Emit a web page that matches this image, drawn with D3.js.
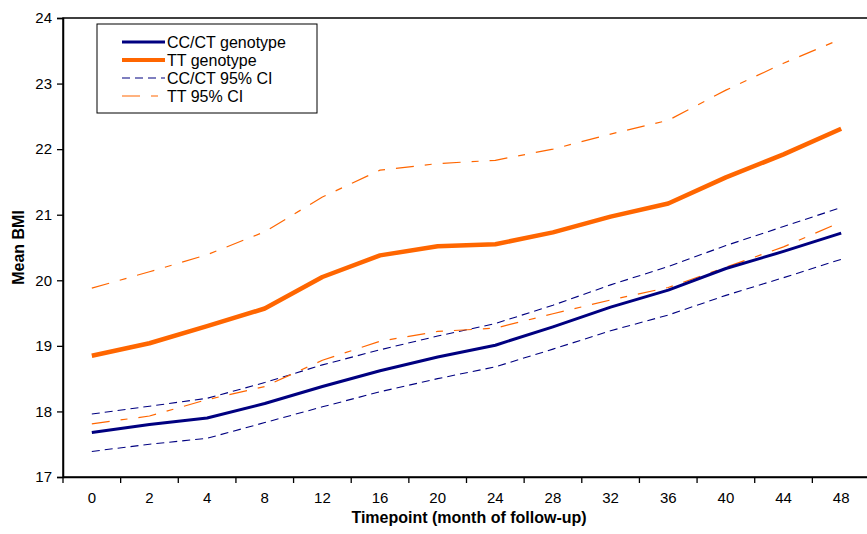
<!DOCTYPE html>
<html>
<head>
<meta charset="utf-8">
<script src="https://cdn.jsdelivr.net/npm/d3@7"></script>
<style>
body { margin: 0; background: #fff; }
svg { display: block; font-family: Arial, "Liberation Sans", sans-serif; }
.axis path, .axis line { stroke: #000; }
.axis text { font-size: 15px; fill: #000; }
.axis-title { font-size: 16px; font-weight: bold; }
.legend-label { font-size: 16px; }
</style>
</head>
<body>
<div id="content"></div>
<script>
const TIMEPOINTS = ['0', '2', '4', '8', '12', '16', '20', '24', '28', '32', '36', '40', '44', '48'];
const CCCT_MEAN  = [17.68, 17.80, 17.90, 18.12, 18.38, 18.62, 18.83, 19.01, 19.29, 19.59, 19.85, 20.18, 20.44, 20.72];
const TT_MEAN    = [18.85, 19.04, 19.30, 19.57, 20.05, 20.38, 20.52, 20.55, 20.73, 20.97, 21.17, 21.57, 21.92, 22.31];
const CCCT_UPPER = [17.96, 18.08, 18.20, 18.44, 18.71, 18.94, 19.15, 19.34, 19.62, 19.93, 20.21, 20.53, 20.82, 21.11];
const CCCT_LOWER = [17.39, 17.50, 17.59, 17.83, 18.07, 18.30, 18.50, 18.68, 18.95, 19.23, 19.47, 19.77, 20.04, 20.32];
const TT_UPPER   = [19.88, 20.13, 20.39, 20.74, 21.27, 21.68, 21.78, 21.83, 22.00, 22.23, 22.44, 22.90, 23.31, 23.68];
const TT_LOWER   = [17.81, 17.93, 18.18, 18.38, 18.78, 19.07, 19.22, 19.27, 19.49, 19.70, 19.89, 20.20, 20.51, 20.89];
const Y_TICKS = [17, 18, 19, 20, 21, 22, 23, 24];

var width = 867;
var height = 534;
var plotLeft = 63, plotRight = 870, plotTop = 18, plotBottom = 477;

var svg = d3.select('#content')
.append('svg')
.attr('width', width)
.attr('height', height);

var xScale = d3.scaleBand()
.domain(TIMEPOINTS)
.range([plotLeft, plotRight]);

var yScale = d3.scaleLinear()
.domain([17, 24])
.range([plotBottom, plotTop]);

// plot frame
svg.append('rect')
.attr('x', plotLeft)
.attr('y', plotTop)
.attr('width', plotRight - plotLeft)
.attr('height', plotBottom - plotTop)
.attr('fill', 'none')
.attr('stroke', '#000')
.attr('stroke-width', 1.5);

// series, CIs first so the means sit on top
var series = [
    {name: 'CC/CT 95% CI', values: CCCT_UPPER, color: '#000080', width: 1.1, dash: '8,5', legend: false},
    {name: 'CC/CT 95% CI', values: CCCT_LOWER, color: '#000080', width: 1.1, dash: '8,5', legend: true},
    {name: 'TT 95% CI', values: TT_UPPER, color: '#FF6600', width: 1.2, dash: '18,11,7,11', legend: false},
    {name: 'TT 95% CI', values: TT_LOWER, color: '#FF6600', width: 1.2, dash: '18,11,7,11', legend: true},
    {name: 'CC/CT genotype', values: CCCT_MEAN, color: '#000080', width: 3, dash: null, legend: true},
    {name: 'TT genotype', values: TT_MEAN, color: '#FF6600', width: 4.5, dash: null, legend: true}
];

var line = d3.line()
.x(function (d, i) {return xScale(TIMEPOINTS[i]) + xScale.bandwidth() / 2})
.y(function (d) {return yScale(d)});

svg.selectAll('.series')
.data(series)
.enter()
.append('path')
.attr('class', 'series')
.attr('fill', 'none')
.attr('stroke', function (s) {return s.color})
.attr('stroke-width', function (s) {return s.width})
.attr('stroke-dasharray', function (s) {return s.dash})
.attr('stroke-linejoin', 'round')
.attr('d', function (s) {return line(s.values)});

// x axis: labels centred in bands, ticks on band edges
var xAxis = d3.axisBottom(xScale)
.tickSize(0)
.tickPadding(15);

var gx = svg.append('g')
.attr('class', 'axis x-axis')
.attr('transform', 'translate(0,' + plotBottom + ')')
.call(xAxis);
gx.select('.domain').attr('stroke-width', 1.5);

svg.selectAll('.x-tick')
.data(TIMEPOINTS)
.enter()
.append('line')
.attr('class', 'x-tick')
.attr('x1', function (d) {return xScale(d)})
.attr('x2', function (d) {return xScale(d)})
.attr('y1', plotBottom)
.attr('y2', plotBottom + 6)
.attr('stroke', '#000')
.attr('stroke-width', 1.3);

var yAxis = d3.axisLeft(yScale)
.tickValues(Y_TICKS)
.tickSize(6)
.tickPadding(5)
.tickFormat(d3.format('d'));

var gy = svg.append('g')
.attr('class', 'axis y-axis')
.attr('transform', 'translate(' + plotLeft + ',0)')
.call(yAxis);
gy.select('.domain').attr('stroke-width', 1.5);
gy.selectAll('.tick line').attr('stroke-width', 1.3);

// axis titles
svg.append('text')
.attr('class', 'axis-title')
.attr('x', 469)
.attr('y', 523)
.attr('text-anchor', 'middle')
.text('Timepoint (month of follow-up)');

svg.append('text')
.attr('class', 'axis-title')
.attr('transform', 'translate(24,' + (plotTop + plotBottom) / 2 + ') rotate(-90)')
.attr('text-anchor', 'middle')
.text('Mean BMI');

// legend
var legend = svg.append('g')
.attr('class', 'legend');

legend.append('rect')
.attr('x', 97)
.attr('y', 24)
.attr('width', 220)
.attr('height', 89)
.attr('fill', '#fff')
.attr('stroke', '#000')
.attr('stroke-width', 1);

var order = ['CC/CT genotype', 'TT genotype', 'CC/CT 95% CI', 'TT 95% CI'];
var items = order.map(function (n) {
    return series.find(function (s) {return s.name === n && s.legend});
});

var rows = legend.selectAll('.legend-row')
.data(items)
.enter()
.append('g')
.attr('class', 'legend-row')
.attr('transform', function (s, i) {return 'translate(0,' + (42 + i * 18) + ')'});

rows.append('line')
.attr('x1', 122)
.attr('x2', 165)
.attr('stroke', function (s) {return s.color})
.attr('stroke-width', function (s) {return Math.min(s.width, 4)})
.attr('stroke-dasharray', function (s) {return s.dash});

rows.append('text')
.attr('class', 'legend-label')
.attr('x', 167)
.attr('dy', '0.35em')
.text(function (s) {return s.name});
</script>
</body>
</html>
